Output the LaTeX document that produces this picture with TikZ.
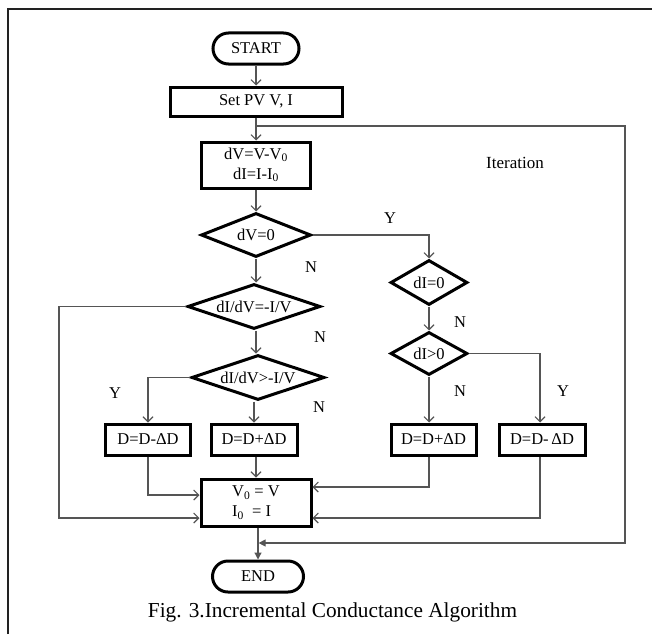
\documentclass[tikz,border=0pt]{standalone}
\usepackage{fontspec}
\setmainfont{Liberation Serif}
\usetikzlibrary{shapes.geometric,arrows.meta}
\definecolor{linkgray}{HTML}{555555}
\definecolor{framegray}{HTML}{222222}

\begin{document}
\begin{tikzpicture}[x=1pt,y=-1pt,
  box/.style={draw=black, line width=3pt, minimum height=31pt, inner sep=0pt,
              font=\fontsize{16.5}{20}\selectfont},
  term/.style={box, rounded corners=15.5pt},
  dec/.style={diamond, draw=black, line width=3pt, inner sep=0pt, aspect=2.8,
              font=\fontsize{16.5}{20}\selectfont},
  link/.style={draw=linkgray, line width=1.2pt},
  arr/.style={link, -{Straight Barb[length=5pt,width=10pt,line width=1.1pt]}},
  farr/.style={link, -{Triangle[length=7pt,width=7pt]}},
  lbl/.style={font=\fontsize{16.5}{18}\selectfont},
]
\useasboundingbox (0,0) rectangle (652,634);

% outer frame (top and left edges)
\draw[framegray, line width=2pt] (8,634) -- (8,9.5) -- (652,9.5);

% main column
\node[term, minimum width=86pt] (start) at (256,48.5) {START};
\node[box, minimum width=172pt, minimum height=29pt] (setpv) at (256,101.5) {Set PV V, I};
\node[box, minimum width=109pt, minimum height=46pt, align=center] (dvbox) at (256,165)
  {dV=V-V\textsubscript{0}\\dI=I-I\textsubscript{0}};
\node[dec, minimum width=110pt, minimum height=44pt] (dv0) at (256,235) {dV=0};
\node[dec, minimum width=133pt, minimum height=45pt] (eq) at (254,306.5) {dI/dV=-I/V};
\node[dec, minimum width=133pt, minimum height=45pt] (gt) at (258,377.5) {dI/dV>-I/V};
\node[box, minimum width=86pt] (dp1) at (254,439.5) {D=D+ΔD};
\node[box, minimum width=85pt] (dm1) at (148,439.5) {D=D-ΔD};
\node[box, minimum width=110pt, minimum height=47pt, align=left] (upd) at (256,502.5)
  {V\textsubscript{0} = V\\I\textsubscript{0}\ \ = I};
\node[term, minimum width=91pt] (end) at (258,576.5) {END};

% right column
\node[dec, minimum width=77pt, minimum height=45pt] (di0) at (429,282.5) {dI=0};
\node[dec, minimum width=77pt, minimum height=43pt] (dig) at (429,353.5) {dI>0};
\node[box, minimum width=85pt] (dp2) at (433.5,439.5) {D=D+ΔD};
\node[box, minimum width=86pt] (dm2) at (542,439.5) {D=D-\,ΔD};

% bend points of the loops
\coordinate (loopjoin) at (256,126);
\coordinate (loopne) at (625,126);
\coordinate (loopse) at (625,543);
\coordinate (endjoin) at (258.6,543);
\coordinate (lbend) at (59,518);
\coordinate (dmone) at (148,495);
\coordinate (dptwo) at (429,487);
\coordinate (dmtwo) at (540,518);

% connectors
\draw[arr] (start) -- (setpv);
\draw[arr] (setpv) -- (dvbox);
\draw[arr] (dvbox) -- (dv0);
\draw[arr] (dv0) -- (dv0 |- eq.north);
\draw[arr] (eq.south -| dv0) -- (dv0 |- gt.north);
\draw[arr] (gt.south -| dp1) -- (dp1);
\draw[arr] (gt.west) -| (dm1.north);
\draw[arr] (dp1.south -| upd) -- (upd);
\draw[arr] (dm1.south) -- (dmone) -- (upd.west |- dmone);
\draw[arr] (eq.west) -| (lbend) -- (upd.west |- lbend);

\draw[arr] (dv0.east) -| (di0.north);
\draw[arr] (di0) -- (dig);
\draw[arr] (dig.south) -- (dig.south |- dp2.north);
\draw[arr] (dig.east) -| (dmtwo |- dm2.north);
\draw[arr] (dp2.south -| dptwo) -- (dptwo) -- (upd.east |- dptwo);
\draw[arr] (dm2.south -| dmtwo) -- (dmtwo) -- (upd.east |- dmtwo);

\draw[farr] (upd.south -| end) -- (end);
\draw[farr] (loopjoin) -- (loopne) -- (loopse) -- (endjoin);

% branch labels
\node[lbl] (ya) at (390,218) {Y};
\node[lbl] (na) at (311,267) {N};
\node[lbl] (nb) at (320,337) {N};
\node[lbl] (nc) at (319,407) {N};
\node[lbl] (yb) at (115,393) {Y};
\node[lbl] (nd) at (460,322) {N};
\node[lbl] (ne) at (460,391) {N};
\node[lbl] (yc) at (563,391) {Y};
\node[font=\fontsize{17}{20}\selectfont] (iter) at (515,163) {Iteration};

% caption
\node[font=\fontsize{21.3}{24}\selectfont] (cap) at (332.5,612) {Fig. 3.Incremental Conductance Algorithm};
\end{tikzpicture}
\end{document}
